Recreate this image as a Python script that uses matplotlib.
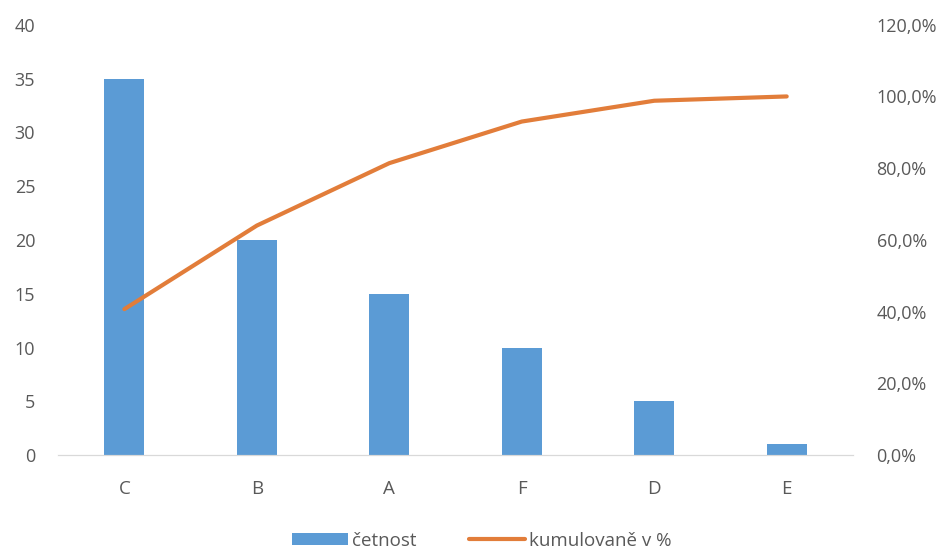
import matplotlib.pyplot as plt
from matplotlib.ticker import FuncFormatter

# data
kategorie = ['C', 'B', 'A', 'F', 'D', 'E']
cetnost = [35, 20, 15, 10, 5, 1]
kumulovane = [40.7, 64.0, 81.4, 93.0, 98.8, 100.0]

plt.rcParams['font.family'] = ['Open Sans', 'DejaVu Sans']
text_color = '#595959'

fig = plt.figure(figsize=(9.53, 5.49), dpi=100)
ax1 = fig.add_axes([0.061, 0.171, 0.834, 0.784])
ax2 = ax1.twinx()

x = range(len(kategorie))
bars = ax1.bar(x, cetnost, width=0.30, color='#5B9BD5', label='četnost', zorder=2)
line, = ax2.plot(x, kumulovane, color='#E27D3A', linewidth=3, label='kumulovaně v %',
                 solid_capstyle='round')

ax1.set_xlim(-0.5, len(kategorie) - 0.5)
ax1.set_ylim(0, 40)
ax1.set_yticks(range(0, 41, 5))
ax2.set_ylim(0, 120)
ax2.set_yticks(range(0, 121, 20))
ax2.yaxis.set_major_formatter(FuncFormatter(lambda v, p: f'{v:.1f}%'.replace('.', ',')))

ax1.set_xticks(list(x))
ax1.set_xticklabels(kategorie)

for ax in (ax1, ax2):
    for s in ('top', 'left', 'right'):
        ax.spines[s].set_visible(False)
    ax.spines['bottom'].set_color('#D9D9D9')
    ax.tick_params(length=0, colors=text_color, labelsize=13)

ax1.tick_params(axis='y', pad=16.5)
ax2.tick_params(axis='y', pad=17)
ax1.tick_params(axis='x', pad=18, labelsize=13.5)

# legend sits right at the bottom edge, as in the original
fig.legend(handles=[bars, line], loc='lower center', bbox_to_anchor=(0.505, -0.02),
           ncol=2, frameon=False, fontsize=13.5, labelcolor=text_color, borderpad=0.05,
           handlelength=3.0, handletextpad=0.2, columnspacing=2.8, handleheight=0.6)

fig.savefig('out.png', dpi=100)
